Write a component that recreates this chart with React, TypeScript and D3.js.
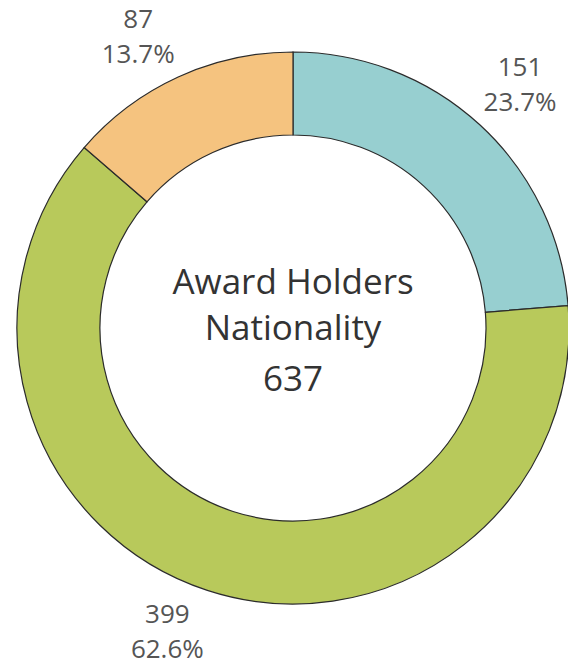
import { useMemo } from 'react';
import * as d3 from 'd3';

// segments, clockwise from 12 o'clock
const segmentKeys = ['A', 'B', 'C'];
const segmentCounts = [151, 399, 87];
const segmentColors = ['#97cfd0', '#b8c95b', '#f5c37f'];
const titleLines = ['Award Holders', 'Nationality'];

const WIDTH = 568,
  HEIGHT = 665;
const CX = 293,
  CY = 328;
const OUTER = 276,
  INNER = 193;

const App = () => {
  const total = d3.sum(segmentCounts);

  const arcs = useMemo(() => {
    const pie = d3
      .pie<number>()
      .sort(null)
      .value((d) => d);
    return pie(segmentCounts);
  }, []);

  const arcGen = d3.arc<d3.PieArcDatum<number>>().innerRadius(INNER).outerRadius(OUTER);

  const slices = arcs.map((a, i) => {
    const mid = (a.startAngle + a.endAngle) / 2;
    // label sits diagonally off the outer edge point
    const ex = Math.sin(mid) * OUTER;
    const ey = -Math.cos(mid) * OUTER;
    const lx = ex + Math.sign(ex) * 40;
    const ly = ey + Math.sign(ey) * 41;
    const pct = ((a.data / total) * 100).toFixed(1) + '%';
    return (
      <g key={segmentKeys[i]}>
        <path d={arcGen(a) ?? ''} fill={segmentColors[i]} stroke="#2b2b2b" strokeWidth={1.2} />
        <text x={lx} y={ly - 8} textAnchor="middle" fontSize={26} fill="#555">
          {a.data}
        </text>
        <text x={lx} y={ly + 27} textAnchor="middle" fontSize={26} fill="#555">
          {pct}
        </text>
      </g>
    );
  });

  return (
    <svg
      width={WIDTH}
      height={HEIGHT}
      style={{ position: 'absolute', left: 0, top: 0, background: '#fff' }}
      fontFamily="'Open Sans', sans-serif"
    >
      <g transform={`translate(${CX},${CY})`}>
        {slices}
        <text textAnchor="middle" fontSize={35} fill="#333">
          <tspan x={0} y={-34}>
            {titleLines[0]}
          </tspan>
          <tspan x={0} y={12}>
            {titleLines[1]}
          </tspan>
          <tspan x={0} y={63}>
            {total}
          </tspan>
        </text>
      </g>
    </svg>
  );
};

export default App;
